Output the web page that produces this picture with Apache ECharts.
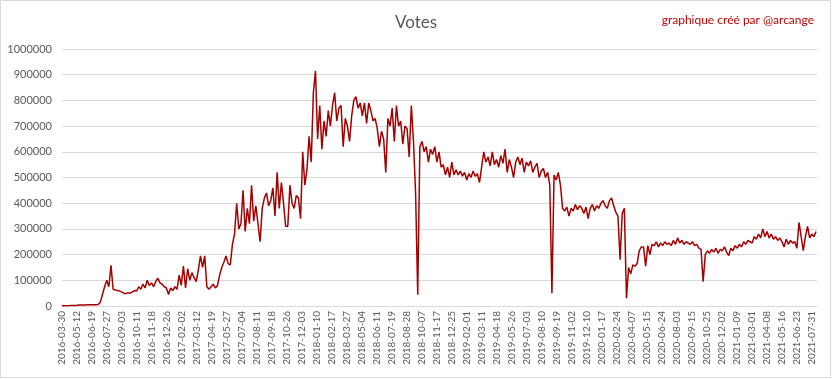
<!DOCTYPE html>
<html><head><meta charset="utf-8">
<script src="https://cdn.jsdelivr.net/npm/echarts@6/dist/echarts.min.js"></script>
<style>html,body{margin:0;padding:0;background:#fff}#c{width:832px;height:379px}</style>
</head><body><div id="c"></div>
<script>
const tickLabels = ["2016-03-30","2016-05-12","2016-06-19","2016-07-27","2016-09-03","2016-10-11","2016-11-18","2016-12-26","2017-02-02","2017-03-12","2017-04-19","2017-05-27","2017-07-04","2017-08-11","2017-09-18","2017-10-26","2017-12-03","2018-01-10","2018-02-17","2018-03-27","2018-05-04","2018-06-11","2018-07-19","2018-08-28","2018-10-07","2018-11-17","2018-12-25","2019-02-01","2019-03-11","2019-04-18","2019-05-26","2019-07-03","2019-08-10","2019-09-19","2019-11-02","2019-12-10","2020-01-17","2020-02-24","2020-04-07","2020-05-15","2020-06-24","2020-08-03","2020-09-15","2020-10-25","2020-12-02","2021-01-09","2021-03-01","2021-04-08","2021-05-16","2021-06-23","2021-07-31"];
const yTicks = [0,100000,200000,300000,400000,500000,600000,700000,800000,900000,1000000];
// sampled votes (one value every 5.4 data points)
const votes = [
500, 800, 1000, 1200, 1500, 1500, 2000, 2500, 4000, 4000,
4200, 4300, 4500, 4500, 4600, 4800, 5000, 6000, 15000, 45000,
75000, 100000, 75000, 158000, 65000, 62000, 60000, 58000, 55000, 50000,
48000, 52000, 50000, 55000, 60000, 58000, 75000, 65000, 85000, 70000,
100000, 80000, 90000, 75000, 95000, 108000, 90000, 85000, 75000, 70000,
45000, 70000, 60000, 75000, 65000, 120000, 80000, 155000, 70000, 145000,
100000, 130000, 110000, 95000, 140000, 195000, 150000, 195000, 75000, 65000,
75000, 85000, 70000, 80000, 120000, 150000, 170000, 195000, 165000, 160000,
240000, 280000, 400000, 300000, 320000, 450000, 290000, 380000, 320000, 470000,
330000, 390000, 320000, 250000, 380000, 420000, 440000, 390000, 410000, 460000,
350000, 520000, 380000, 480000, 400000, 310000, 310000, 470000, 400000, 380000,
430000, 420000, 340000, 600000, 470000, 530000, 660000, 560000, 830000, 915000,
650000, 780000, 610000, 720000, 660000, 760000, 700000, 780000, 830000, 720000,
770000, 780000, 620000, 730000, 700000, 640000, 740000, 800000, 815000, 770000,
790000, 740000, 790000, 710000, 790000, 760000, 720000, 730000, 690000, 620000,
680000, 650000, 520000, 730000, 700000, 770000, 640000, 780000, 700000, 720000,
630000, 700000, 690000, 580000, 780000, 640000, 440000, 44000, 620000, 640000,
600000, 620000, 560000, 610000, 590000, 620000, 560000, 600000, 540000, 550000,
510000, 540000, 500000, 560000, 510000, 530000, 510000, 525000, 505000, 520000,
490000, 515000, 500000, 525000, 505000, 515000, 480000, 540000, 600000, 560000,
580000, 545000, 600000, 550000, 570000, 540000, 585000, 555000, 610000, 520000,
570000, 540000, 500000, 560000, 580000, 550000, 575000, 520000, 560000, 545000,
565000, 520000, 540000, 555000, 500000, 525000, 535000, 500000, 520000, 470000,
50000, 510000, 490000, 520000, 470000, 380000, 370000, 385000, 350000, 380000,
370000, 395000, 375000, 390000, 380000, 360000, 385000, 340000, 380000, 395000,
370000, 390000, 380000, 400000, 410000, 390000, 380000, 410000, 420000, 390000,
365000, 350000, 180000, 360000, 380000, 30000, 150000, 125000, 160000, 155000,
165000, 215000, 230000, 230000, 155000, 235000, 200000, 240000, 235000, 250000,
230000, 245000, 235000, 250000, 240000, 245000, 235000, 255000, 240000, 265000,
245000, 255000, 240000, 250000, 245000, 240000, 250000, 235000, 240000, 225000,
220000, 95000, 200000, 215000, 205000, 220000, 210000, 225000, 205000, 220000,
215000, 230000, 210000, 196000, 225000, 215000, 235000, 225000, 240000, 230000,
250000, 240000, 255000, 250000, 245000, 270000, 260000, 280000, 265000, 300000,
270000, 290000, 265000, 280000, 260000, 270000, 255000, 265000, 250000, 230000,
260000, 240000, 255000, 245000, 250000, 225000, 325000, 270000, 215000, 270000,
310000, 265000, 280000, 270000, 290000
];
const LABEL_EVERY = 38;      // data points between category labels
const STEP = 5.4;            // data points between samples
const LAST_DAY = 1914;

const chart = echarts.init(document.getElementById('c'), null, {renderer: 'canvas'});
chart.setOption({
  animation: false,
  backgroundColor: '#ffffff',
  title: [
    {text: 'Votes', left: 'center', top: 9, textStyle: {fontFamily: 'Lato', fontSize: 17, fontWeight: 'normal', color: '#595959'}},
    {text: 'graphique créé par @arcange', right: 13, top: 9, textStyle: {fontFamily: 'Lato', fontSize: 12, fontWeight: 'normal', color: '#c00000'}}
  ],
  graphic: [{type: 'rect', shape: {x: 0.5, y: 0.5, width: 830, height: 377}, style: {fill: 'none', stroke: '#d9d9d9', lineWidth: 1}, silent: true}],
  grid: {left: 62, right: 15, top: 49, bottom: 73, containLabel: false},
  xAxis: {
    type: 'value', min: 0, max: LAST_DAY, interval: LABEL_EVERY,
    axisLine: {show: true, lineStyle: {color: '#d9d9d9'}},
    axisTick: {show: false},
    splitLine: {show: false},
    axisLabel: {
      rotate: 90, margin: 5, fontFamily: 'Lato', fontSize: 10, color: '#595959',
      showMinLabel: true, showMaxLabel: true,
      formatter: v => (v % LABEL_EVERY === 0 && tickLabels[v / LABEL_EVERY]) ? tickLabels[v / LABEL_EVERY] : ''
    }
  },
  yAxis: {
    type: 'value', min: yTicks[0], max: yTicks[yTicks.length - 1], interval: yTicks[1] - yTicks[0],
    axisLine: {show: false}, axisTick: {show: false},
    splitLine: {lineStyle: {color: '#d9d9d9', width: 1}},
    axisLabel: {fontFamily: 'Lato', fontSize: 11, color: '#595959', margin: 10, formatter: v => String(v)}
  },
  series: [{
    type: 'line', symbol: 'none', silent: true,
    data: votes.map((v, i) => [i * STEP, v]),
    lineStyle: {color: '#a30000', width: 1.5},
    itemStyle: {color: '#a30000'}
  }]
});
</script></body></html>
